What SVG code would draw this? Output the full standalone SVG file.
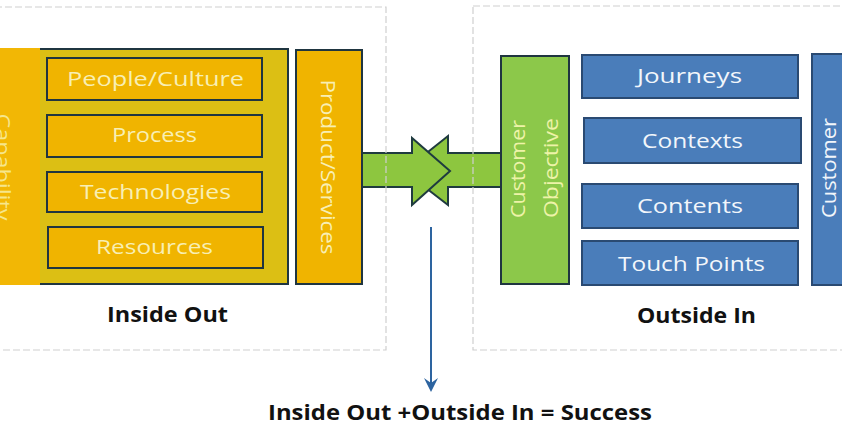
<svg xmlns="http://www.w3.org/2000/svg" width="842" height="442" viewBox="0 0 842 442">
<style>
.dark{stroke:#1f3540;stroke-width:2}
.ybox{fill:#f0b400;stroke:#1f3540;stroke-width:2}
.bbox{fill:#4a7dba;stroke:#2a4a72;stroke-width:2}
.gbox{fill:#8cc84a;stroke:#1f3540;stroke-width:2}
.cont{fill:none;stroke:#cfcfcf;stroke-width:1.2;stroke-dasharray:7 3}
.t{font-family:"Open Sans","Liberation Sans",sans-serif;font-size:20px;text-anchor:middle}
.ty{fill:#f8efb4}
.tb{fill:#f2f6fb}
.tg{fill:#eef3a8}
.lab{font-family:"Open Sans","Liberation Sans",sans-serif;font-weight:bold;font-size:21px;fill:#111;text-anchor:middle}
</style>
<rect x="0" y="0" width="842" height="442" fill="#ffffff"/>

<g id="connectors">
  <polygon points="504,153 448,153 448,136 404,171 448,205 448,187 504,187" fill="#8dc63f" stroke="#1f3b3f" stroke-width="2" stroke-linejoin="miter"/>
  <polygon points="356,153 412,153 412,138 450,171 412,205 412,187 356,187" fill="#8dc63f" stroke="#1f3b3f" stroke-width="2" stroke-linejoin="miter"/>
  <line x1="431" y1="227" x2="431" y2="386" stroke="#2d64a0" stroke-width="2"/>
  <path d="M424,378 L431,392 L438,378 L431,383 Z" fill="#2d64a0"/>
</g>

<g id="capability">
  <rect x="-4" y="49" width="292" height="235" fill="#dcbf14" stroke="#1f3540" stroke-width="2"/>
  <rect x="-4" y="48" width="44" height="237" fill="#f2b705"/>
  <text class="t" fill="#f6e68c" font-size="22" transform="translate(-4,167) rotate(90)" textLength="107" lengthAdjust="spacingAndGlyphs">Capability</text>
</g>
<g id="people-culture">
  <rect class="ybox" x="47" y="58" width="215" height="42"/>
  <text class="t ty" x="155.5" y="86" textLength="177" lengthAdjust="spacingAndGlyphs">People/Culture</text>
</g>
<g id="process">
  <rect class="ybox" x="47" y="115" width="215" height="42"/>
  <text class="t ty" x="154.5" y="142" textLength="85" lengthAdjust="spacingAndGlyphs">Process</text>
</g>
<g id="technologies">
  <rect class="ybox" x="47" y="172" width="215" height="40"/>
  <text class="t ty" x="155.5" y="199" textLength="151" lengthAdjust="spacingAndGlyphs">Technologies</text>
</g>
<g id="resources">
  <rect class="ybox" x="48" y="227" width="215" height="41"/>
  <text class="t ty" x="154.5" y="254" textLength="117" lengthAdjust="spacingAndGlyphs">Resources</text>
</g>
<g id="product-services">
  <rect class="ybox" x="296" y="50" width="66" height="234"/>
  <text class="t ty" transform="translate(321,167) rotate(90)" textLength="175" lengthAdjust="spacingAndGlyphs">Product/Services</text>
</g>
<g id="inside-out-label">
  <text class="lab" x="167.5" y="322" textLength="121" lengthAdjust="spacingAndGlyphs">Inside Out</text>
</g>

<g id="customer-objective">
  <rect class="gbox" x="501" y="56" width="68" height="228"/>
  <text class="t tg" transform="translate(525,169) rotate(-90)" textLength="98" lengthAdjust="spacingAndGlyphs">Customer</text>
  <text class="t tg" transform="translate(558,168) rotate(-90)" textLength="100" lengthAdjust="spacingAndGlyphs">Objective</text>
</g>
<g id="journeys">
  <rect class="bbox" x="582" y="55" width="216" height="43"/>
  <text class="t tb" x="689.5" y="83" textLength="105" lengthAdjust="spacingAndGlyphs">Journeys</text>
</g>
<g id="contexts">
  <rect class="bbox" x="584" y="118" width="217" height="45"/>
  <text class="t tb" x="692.5" y="148" textLength="101" lengthAdjust="spacingAndGlyphs">Contexts</text>
</g>
<g id="contents">
  <rect class="bbox" x="582" y="184" width="216" height="44"/>
  <text class="t tb" x="690" y="213" textLength="106" lengthAdjust="spacingAndGlyphs">Contents</text>
</g>
<g id="touch-points">
  <rect class="bbox" x="582" y="241" width="216" height="44"/>
  <text class="t tb" x="691.5" y="271" textLength="147" lengthAdjust="spacingAndGlyphs">Touch Points</text>
</g>
<g id="customer">
  <rect class="bbox" x="812" y="54" width="40" height="231"/>
  <text class="t tb" transform="translate(836,168) rotate(-90)" textLength="100" lengthAdjust="spacingAndGlyphs">Customer</text>
</g>
<g id="outside-in-label">
  <text class="lab" x="696.5" y="323" textLength="119" lengthAdjust="spacingAndGlyphs">Outside In</text>
</g>

<g id="containers">
  <rect class="cont" x="-5" y="7" width="391" height="343"/>
  <rect class="cont" x="473" y="6" width="380" height="344"/>
</g>

<g id="result">
  <text class="lab" x="460" y="420" textLength="384" lengthAdjust="spacingAndGlyphs">Inside Out +Outside In = Success</text>
</g>
</svg>
